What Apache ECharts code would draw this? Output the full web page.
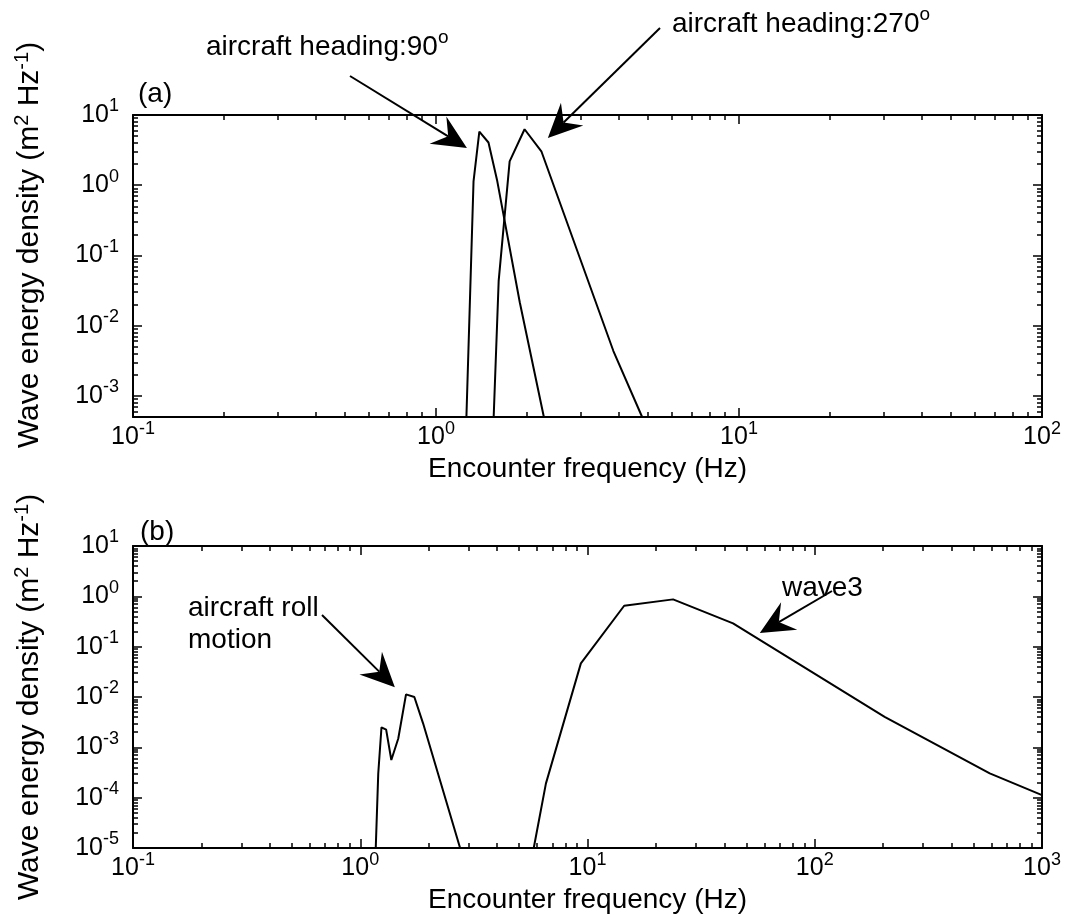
<!DOCTYPE html>
<html>
<head>
<meta charset="utf-8">
<title>Wave energy density spectra</title>
<script src="https://cdn.jsdelivr.net/npm/echarts@6.0.0/dist/echarts.min.js"></script>
<style>
  html, body { margin: 0; padding: 0; background: #ffffff; }
  #chart { width: 1071px; height: 918px; }
</style>
</head>
<body>
<div id="chart"></div>
<script>
// ---- Panel (a): encounter spectra for two aircraft headings ----
const freqHeading90  = [1.26, 1.33, 1.39, 1.49, 1.59, 1.89, 2.27];
const densHeading90  = [5e-4, 1.13, 5.8, 4.06, 1.19, 0.0215, 5e-4];
const freqHeading270 = [1.55, 1.61, 1.75, 1.96, 2.23, 3.85, 4.79];
const densHeading270 = [5e-4, 0.0433, 2.18, 6.27, 3.0, 0.00435, 5e-4];

// ---- Panel (b): roll-motion peak and the wave3 spectrum ----
const freqRoll  = [1.17, 1.20, 1.24, 1.30, 1.37, 1.47, 1.59, 1.73, 1.89, 2.75];
const densRoll  = [1e-5, 3.0e-4, 2.5e-3, 2.25e-3, 5.6e-4, 1.5e-3, 0.0113, 0.0100, 0.0030, 1e-5];
const freqWave3 = [5.8, 6.56, 9.35, 14.5, 23.8, 43.7, 203, 589, 1000];
const densWave3 = [1e-5, 1.9e-4, 0.0466, 0.65, 0.87, 0.29, 0.00404, 3.03e-4, 1.12e-4];

// ---- Axis ranges and decade tick labels (exponents of ten) ----
const xRangeA = [0.1, 100];
const yRangeA = [5e-4, 10];
const xRangeB = [0.1, 1000];
const yRangeB = [1e-5, 10];
const xExponentsA = [-1, 0, 1, 2];
const yExponentsA = [-3, -2, -1, 0, 1];
const xExponentsB = [-1, 0, 1, 2, 3];
const yExponentsB = [-5, -4, -3, -2, -1, 0, 1];

// ---- Arrow tips, in data units (frequency, density) ----
const tipHeading90  = [1.265, 3.4];
const tipHeading270 = [2.34, 4.72];
const tipRoll       = [1.42, 0.0157];
const tipWave3      = [57.3, 0.186];

const FONT = '"Liberation Sans", Arial, Helvetica, sans-serif';
const INK = '#000000';
const frameLine = { show: true, onZero: false, lineStyle: { color: INK, width: 2 } };
const noLine = { show: false, onZero: false };
const tickLine = { color: INK, width: 1.5 };

// "10" with a raised exponent
const tickRich = {
  b: { fontFamily: FONT, fontSize: 25, lineHeight: 25, color: INK, verticalAlign: 'bottom' },
  s: { fontFamily: FONT, fontSize: 18, lineHeight: 18, color: INK, verticalAlign: 'bottom', padding: [0, 0, 12, 0] }
};
const powerLabel = v => '{b|10}{s|' + Math.round(v) + '}';

// log10 positions of the 2..9 minor ticks inside [lo, hi]
function minorTicks(lo, hi) {
  const out = [];
  for (let d = Math.floor(lo); d < Math.ceil(hi); d++) {
    for (let m = 2; m <= 9; m++) {
      const v = d + Math.log10(m);
      if (v > lo + 1e-9 && v < hi - 1e-9) out.push(v);
    }
  }
  return out;
}

// One hidden log axis carries the data; value axes in log10 units draw the boxed frame and ticks.
function buildAxes(dim, g, range, exponents, name, nameOpts) {
  const lo = Math.log10(range[0]), hi = Math.log10(range[1]);
  const minors = minorTicks(lo, hi);
  const near = dim === 'x' ? 'bottom' : 'left';
  const far = dim === 'x' ? 'top' : 'right';
  const base = { gridIndex: g, type: 'value', min: lo, max: hi, splitLine: { show: false }, silent: true };
  const major = (pos, labelled) => Object.assign({}, base, {
    position: pos,
    axisLine: frameLine,
    axisTick: { show: true, inside: true, length: 9, customValues: exponents, lineStyle: tickLine },
    axisLabel: labelled
      ? { show: true, customValues: exponents, formatter: powerLabel, rich: tickRich, margin: dim === 'x' ? 8 : 14 }
      : { show: false }
  });
  const minor = pos => Object.assign({}, base, {
    position: pos,
    axisLine: noLine,
    axisTick: { show: true, inside: true, length: 5, customValues: minors, lineStyle: tickLine },
    axisLabel: { show: false }
  });
  const dataAxis = { gridIndex: g, type: 'log', logBase: 10, min: range[0], max: range[1], show: false, axisLine: noLine };
  const labelled = Object.assign(major(near, true), { name: name, nameLocation: 'middle' }, nameOpts);
  return [dataAxis, labelled, minor(near), major(far, false), minor(far)];
}

const xNameStyle = { fontFamily: FONT, fontSize: 28, color: INK };
const yNameRich = {
  t: { fontFamily: FONT, fontSize: 30, lineHeight: 30, color: INK, verticalAlign: 'bottom' },
  s: { fontFamily: FONT, fontSize: 20, lineHeight: 20, color: INK, verticalAlign: 'bottom', padding: [0, 0, 13, 0] }
};
const yName = '{t|Wave energy density (m}{s|2}{t| Hz}{s|-1}{t|)}';
const xName = 'Encounter frequency (Hz)';

const curve = (g, xs, ys) => ({
  type: 'line',
  xAxisIndex: g * 5,
  yAxisIndex: g * 5,
  data: xs.map((x, i) => [x, ys[i]]),
  symbol: 'none',
  showSymbol: false,
  lineStyle: { color: INK, width: 2 },
  clip: true,
  silent: true
});

const chart = echarts.init(document.getElementById('chart'), null, { renderer: 'canvas' });

chart.setOption({
  animation: false,
  backgroundColor: '#ffffff',
  grid: [
    { left: 133, top: 115, width: 909, height: 302, outerBoundsMode: 'none' },
    { left: 133, top: 546, width: 909, height: 302, outerBoundsMode: 'none' }
  ],
  xAxis: [
    ...buildAxes('x', 0, xRangeA, xExponentsA, xName, { nameGap: 38, nameTextStyle: xNameStyle }),
    ...buildAxes('x', 1, xRangeB, xExponentsB, xName, { nameGap: 38, nameTextStyle: xNameStyle })
  ],
  yAxis: [
    ...buildAxes('y', 0, yRangeA, yExponentsA, yName, { nameGap: 88, nameTextStyle: { rich: yNameRich, padding: [0, 0, 0, 42] } }),
    ...buildAxes('y', 1, yRangeB, yExponentsB, yName, { nameGap: 88, nameTextStyle: { rich: yNameRich } })
  ],
  series: [
    curve(0, freqHeading90, densHeading90),
    curve(0, freqHeading270, densHeading270),
    curve(1, freqRoll, densRoll),
    curve(1, freqWave3, densWave3)
  ]
});

// ---- Annotations: labels and filled arrows pointing at the spectral peaks ----
const richFor = size => ({
  t: { fontFamily: FONT, fontSize: size, lineHeight: size + 4, fill: INK, verticalAlign: 'bottom' },
  s: { fontFamily: FONT, fontSize: Math.round(size * 0.68), lineHeight: Math.round(size * 0.68), fill: INK,
       verticalAlign: 'bottom', padding: [0, 0, Math.round(size * 0.5), 0] }
});

function textNote(str, x, y, size) {
  return {
    type: 'text', x: x, y: y, silent: true,
    style: { text: str, rich: richFor(size || 28), align: 'left', verticalAlign: 'middle', fill: INK }
  };
}

function arrowParts(tail, tip) {
  const dx = tip[0] - tail[0], dy = tip[1] - tail[1];
  const len = Math.hypot(dx, dy);
  const ux = dx / len, uy = dy / len, nx = -uy, ny = ux;
  const L = 34, W = 16, N = 22;
  const b = [tip[0] - ux * L, tip[1] - uy * L];
  const n = [tip[0] - ux * N, tip[1] - uy * N];
  return [
    { type: 'line', silent: true, shape: { x1: tail[0], y1: tail[1], x2: n[0], y2: n[1] },
      style: { stroke: INK, lineWidth: 2 } },
    { type: 'polygon', silent: true,
      shape: { points: [tip, [b[0] + nx * W, b[1] + ny * W], n, [b[0] - nx * W, b[1] - ny * W]] },
      style: { fill: INK } }
  ];
}

const toPx = (g, p) => chart.convertToPixel({ xAxisIndex: g * 5, yAxisIndex: g * 5 }, p);

chart.setOption({
  graphic: [
    textNote('{t|(a)}', 138, 92),
    textNote('{t|(b)}', 140, 530),
    textNote('{t|aircraft heading:90}{s|o}', 206, 45),
    textNote('{t|aircraft heading:270}{s|o}', 672, 22),
    textNote('{t|aircraft roll}\n{t|motion}', 188, 622),
    textNote('{t|wave3}', 782, 586),
    ...arrowParts([350, 76], toPx(0, tipHeading90)),
    ...arrowParts([660, 28], toPx(0, tipHeading270)),
    ...arrowParts([322, 615], toPx(1, tipRoll)),
    ...arrowParts([832, 591], toPx(1, tipWave3))
  ]
});
</script>
</body>
</html>
